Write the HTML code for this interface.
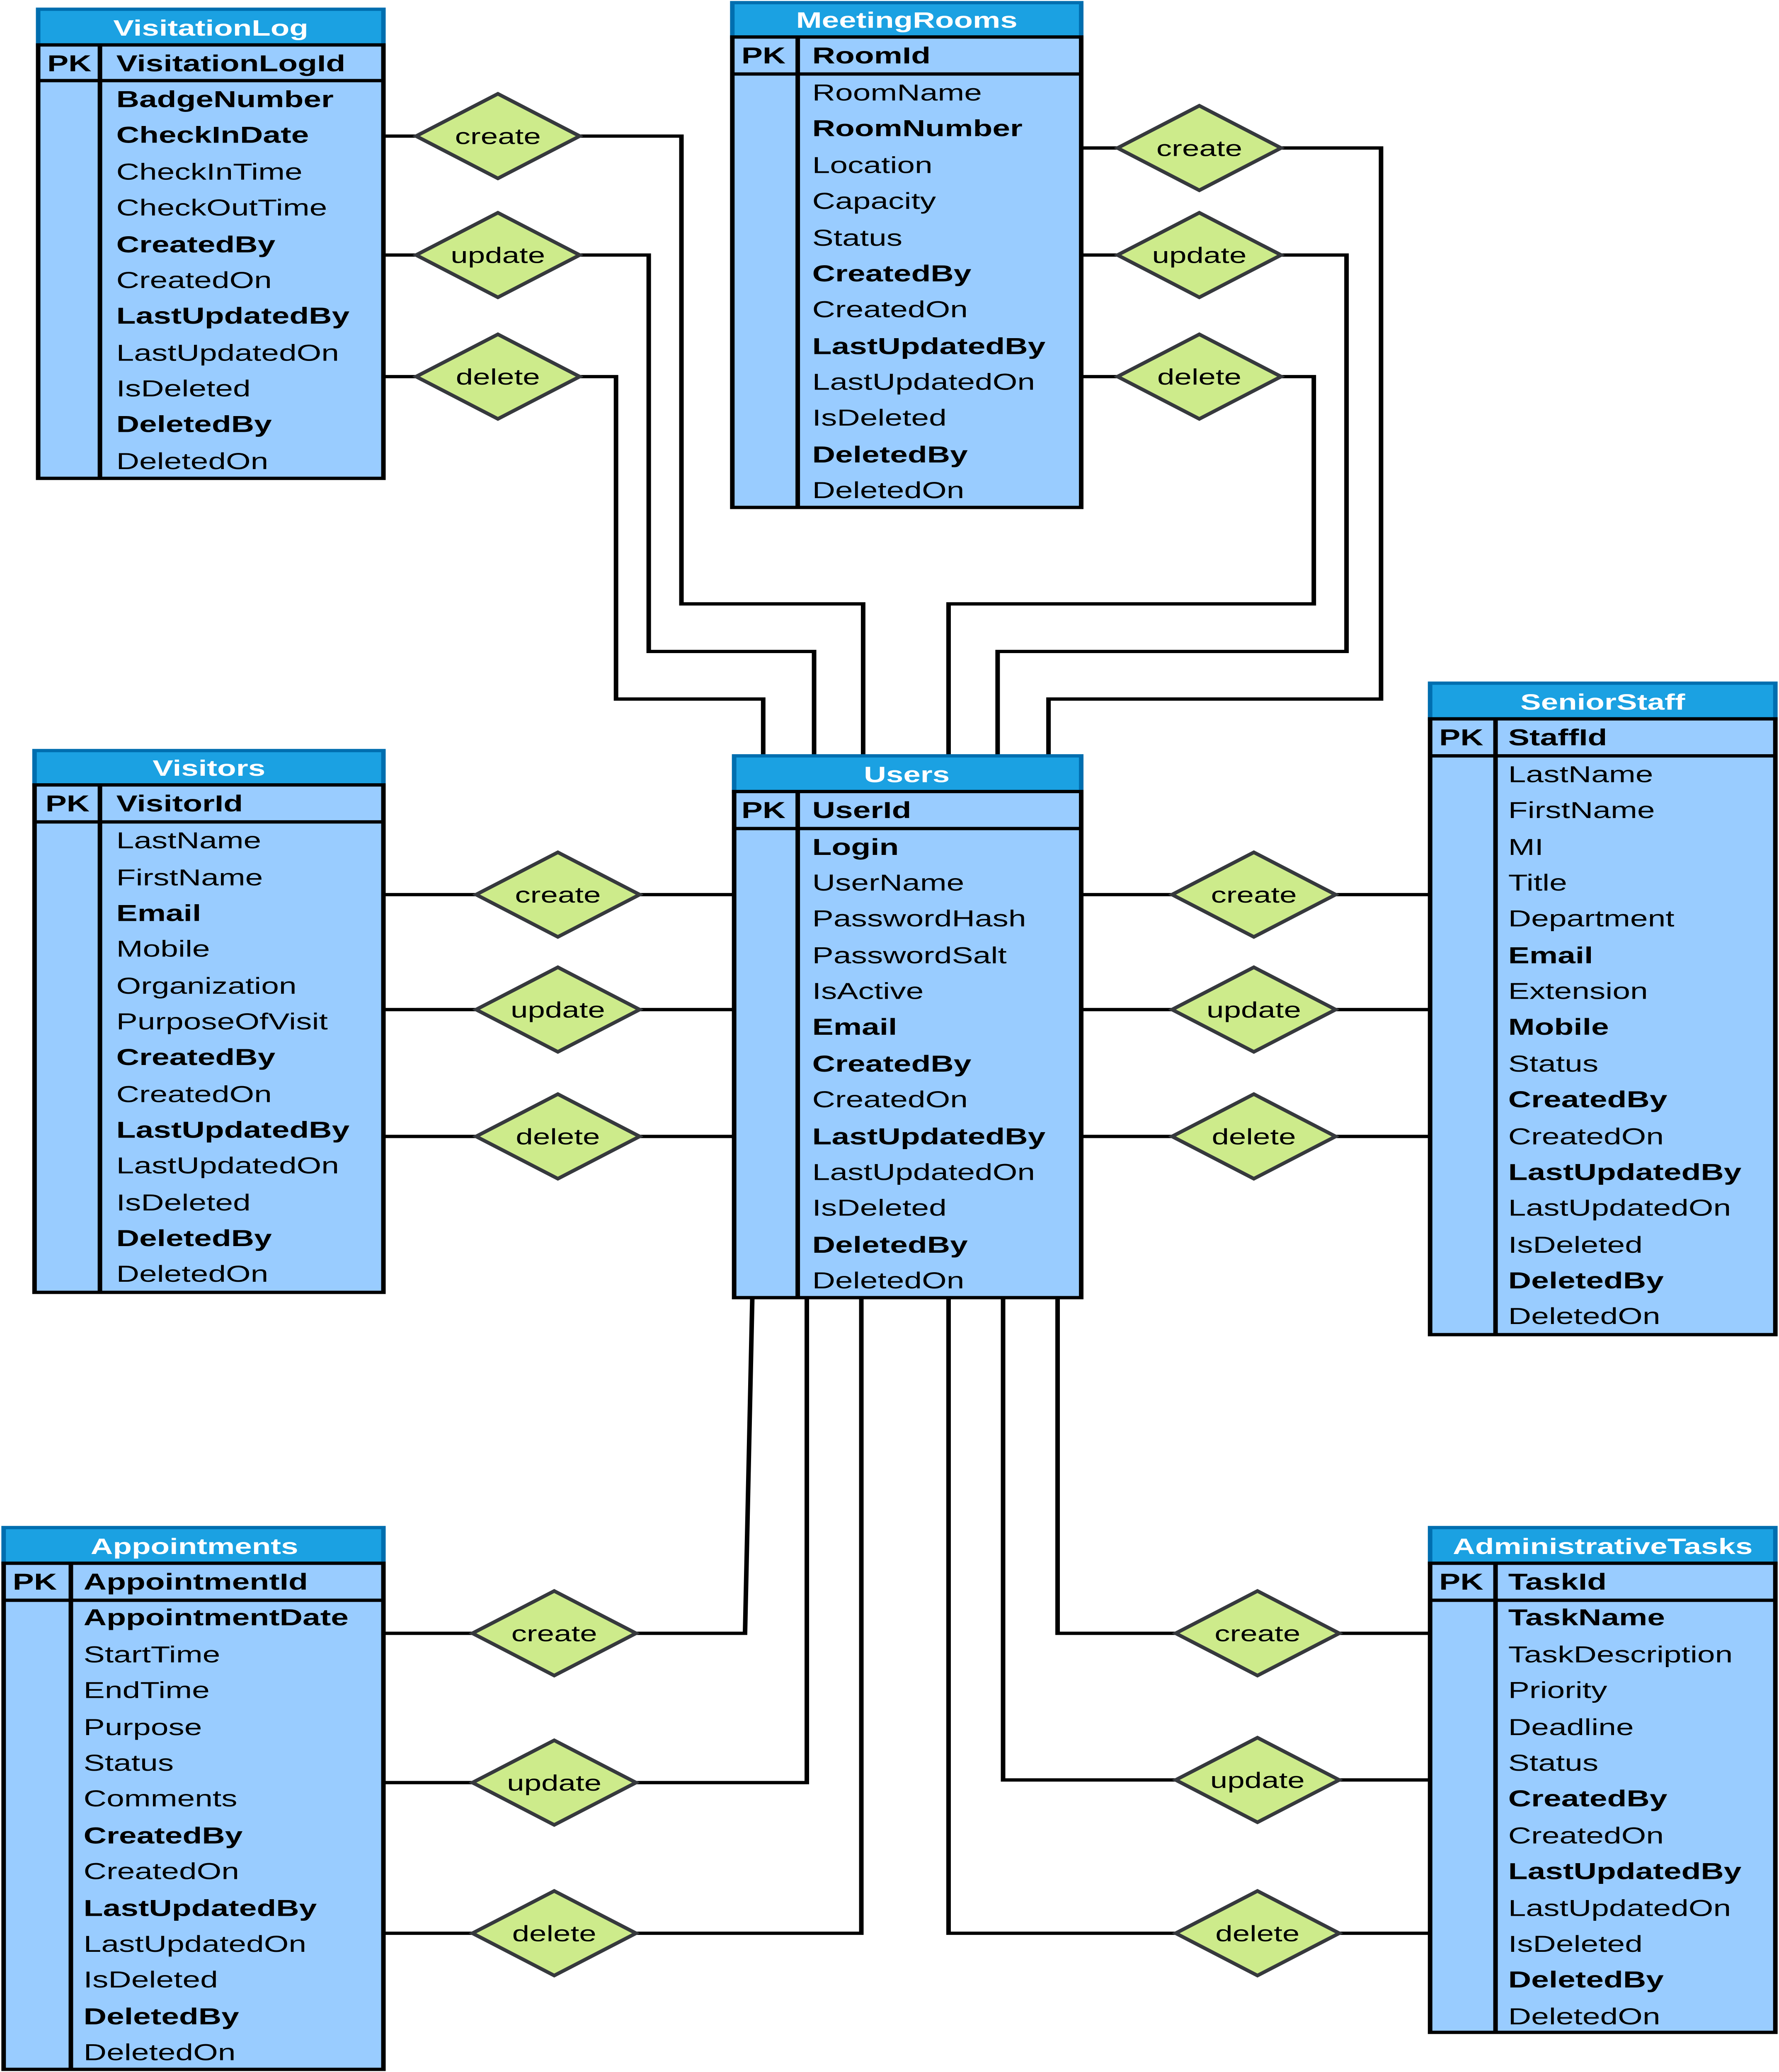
<!DOCTYPE html>
<html><head><meta charset="utf-8"><style>
html,body{margin:0;padding:0;background:#fff;overflow:hidden;width:100vw;height:100vh;}
svg{display:block;width:100vw;height:100vh;position:absolute;left:0;top:0}
text{font-family:"Liberation Sans",Arial,sans-serif;}
.h{fill:#fff;font-weight:bold;font-size:17px;text-anchor:middle}
.r{fill:#000;font-size:17.5px}
.b{font-weight:bold}
.d{fill:#000;font-size:17px;text-anchor:middle}
.hd{fill:#1ba1e2;stroke:#006eaf;stroke-width:2.5}
.bd{fill:#99ccff;stroke:#000;stroke-width:2.5}
.ln{stroke:#000;stroke-width:2.5;fill:none}
.dm{fill:#cdeb8b;stroke:#36393d;stroke-width:2.5}
</style></head><body>
<svg viewBox="0 0 979 1568" preserveAspectRatio="none" xmlns="http://www.w3.org/2000/svg">
<g class="ln">
<path d="M211 103H229M319 103H375V457H475V572"/>
<path d="M211 193H229M319 193H357V493H448V572"/>
<path d="M211 285H229M319 285H339V529H420V572"/>
<path d="M595 112H615M705 112H760V529H577V572"/>
<path d="M595 193H615M705 193H741V493H549V572"/>
<path d="M595 285H615M705 285H723V457H522V572"/>
<path d="M211 677H262M352 677H403"/>
<path d="M211 764H262M352 764H403"/>
<path d="M211 860H262M352 860H403"/>
<path d="M595 677H645M735 677H786"/>
<path d="M595 764H645M735 764H786"/>
<path d="M595 860H645M735 860H786"/>
<path d="M211 1236H260M350 1236H410L414 982"/>
<path d="M211 1349H260M350 1349H444V982"/>
<path d="M211 1463H260M350 1463H474V982"/>
<path d="M786 1236H737M647 1236H582V982"/>
<path d="M786 1347H737M647 1347H552V982"/>
<path d="M786 1463H737M647 1463H522V982"/>
</g>
<g>
<polygon class="dm" points="229,103 274,71 319,103 274,135"/><text class="d" x="274" y="109">create</text>
<polygon class="dm" points="229,193 274,161 319,193 274,225"/><text class="d" x="274" y="199">update</text>
<polygon class="dm" points="229,285 274,253 319,285 274,317"/><text class="d" x="274" y="291">delete</text>
<polygon class="dm" points="615,112 660,80 705,112 660,144"/><text class="d" x="660" y="118">create</text>
<polygon class="dm" points="615,193 660,161 705,193 660,225"/><text class="d" x="660" y="199">update</text>
<polygon class="dm" points="615,285 660,253 705,285 660,317"/><text class="d" x="660" y="291">delete</text>
<polygon class="dm" points="262,677 307,645 352,677 307,709"/><text class="d" x="307" y="683">create</text>
<polygon class="dm" points="262,764 307,732 352,764 307,796"/><text class="d" x="307" y="770">update</text>
<polygon class="dm" points="262,860 307,828 352,860 307,892"/><text class="d" x="307" y="866">delete</text>
<polygon class="dm" points="645,677 690,645 735,677 690,709"/><text class="d" x="690" y="683">create</text>
<polygon class="dm" points="645,764 690,732 735,764 690,796"/><text class="d" x="690" y="770">update</text>
<polygon class="dm" points="645,860 690,828 735,860 690,892"/><text class="d" x="690" y="866">delete</text>
<polygon class="dm" points="260,1236 305,1204 350,1236 305,1268"/><text class="d" x="305" y="1242">create</text>
<polygon class="dm" points="260,1349 305,1317 350,1349 305,1381"/><text class="d" x="305" y="1355">update</text>
<polygon class="dm" points="260,1463 305,1431 350,1463 305,1495"/><text class="d" x="305" y="1469">delete</text>
<polygon class="dm" points="647,1236 692,1204 737,1236 692,1268"/><text class="d" x="692" y="1242">create</text>
<polygon class="dm" points="647,1347 692,1315 737,1347 692,1379"/><text class="d" x="692" y="1353">update</text>
<polygon class="dm" points="647,1463 692,1431 737,1463 692,1495"/><text class="d" x="692" y="1469">delete</text>
</g>

<rect class="hd" x="21" y="7" width="190" height="27"/><text class="h" x="116" y="27">VisitationLog</text>
<rect class="bd" x="21" y="34" width="190" height="328"/>
<path class="ln" d="M21 61H211M55 34V362"/>
<text class="r b" x="26" y="54">PK</text><text class="r b" x="64" y="54">VisitationLogId</text>
<text class="r b" x="64" y="81">BadgeNumber</text>
<text class="r b" x="64" y="108">CheckInDate</text>
<text class="r" x="64" y="136">CheckInTime</text>
<text class="r" x="64" y="163">CheckOutTime</text>
<text class="r b" x="64" y="191">CreatedBy</text>
<text class="r" x="64" y="218">CreatedOn</text>
<text class="r b" x="64" y="245">LastUpdatedBy</text>
<text class="r" x="64" y="273">LastUpdatedOn</text>
<text class="r" x="64" y="300">IsDeleted</text>
<text class="r b" x="64" y="327">DeletedBy</text>
<text class="r" x="64" y="355">DeletedOn</text>

<rect class="hd" x="403" y="2" width="192" height="26"/><text class="h" x="499" y="21">MeetingRooms</text>
<rect class="bd" x="403" y="28" width="192" height="356"/>
<path class="ln" d="M403 56H595M439 28V384"/>
<text class="r b" x="408" y="48">PK</text><text class="r b" x="447" y="48">RoomId</text>
<text class="r" x="447" y="76">RoomName</text>
<text class="r b" x="447" y="103">RoomNumber</text>
<text class="r" x="447" y="131">Location</text>
<text class="r" x="447" y="158">Capacity</text>
<text class="r" x="447" y="186">Status</text>
<text class="r b" x="447" y="213">CreatedBy</text>
<text class="r" x="447" y="240">CreatedOn</text>
<text class="r b" x="447" y="268">LastUpdatedBy</text>
<text class="r" x="447" y="295">LastUpdatedOn</text>
<text class="r" x="447" y="322">IsDeleted</text>
<text class="r b" x="447" y="350">DeletedBy</text>
<text class="r" x="447" y="377">DeletedOn</text>

<rect class="hd" x="19" y="568" width="192" height="26"/><text class="h" x="115" y="587">Visitors</text>
<rect class="bd" x="19" y="594" width="192" height="384"/>
<path class="ln" d="M19 622H211M55 594V978"/>
<text class="r b" x="25" y="614">PK</text><text class="r b" x="64" y="614">VisitorId</text>
<text class="r" x="64" y="642">LastName</text>
<text class="r" x="64" y="670">FirstName</text>
<text class="r b" x="64" y="697">Email</text>
<text class="r" x="64" y="724">Mobile</text>
<text class="r" x="64" y="752">Organization</text>
<text class="r" x="64" y="779">PurposeOfVisit</text>
<text class="r b" x="64" y="806">CreatedBy</text>
<text class="r" x="64" y="834">CreatedOn</text>
<text class="r b" x="64" y="861">LastUpdatedBy</text>
<text class="r" x="64" y="888">LastUpdatedOn</text>
<text class="r" x="64" y="916">IsDeleted</text>
<text class="r b" x="64" y="943">DeletedBy</text>
<text class="r" x="64" y="970">DeletedOn</text>

<rect class="hd" x="404" y="572" width="191" height="27"/><text class="h" x="499" y="592">Users</text>
<rect class="bd" x="404" y="599" width="191" height="383"/>
<path class="ln" d="M404 627H595M439 599V982"/>
<text class="r b" x="408" y="619">PK</text><text class="r b" x="447" y="619">UserId</text>
<text class="r b" x="447" y="647">Login</text>
<text class="r" x="447" y="674">UserName</text>
<text class="r" x="447" y="701">PasswordHash</text>
<text class="r" x="447" y="729">PasswordSalt</text>
<text class="r" x="447" y="756">IsActive</text>
<text class="r b" x="447" y="783">Email</text>
<text class="r b" x="447" y="811">CreatedBy</text>
<text class="r" x="447" y="838">CreatedOn</text>
<text class="r b" x="447" y="866">LastUpdatedBy</text>
<text class="r" x="447" y="893">LastUpdatedOn</text>
<text class="r" x="447" y="920">IsDeleted</text>
<text class="r b" x="447" y="948">DeletedBy</text>
<text class="r" x="447" y="975">DeletedOn</text>

<rect class="hd" x="787" y="517" width="190" height="27"/><text class="h" x="882" y="537">SeniorStaff</text>
<rect class="bd" x="787" y="544" width="190" height="466"/>
<path class="ln" d="M787 572H977M823 544V1010"/>
<text class="r b" x="792" y="564">PK</text><text class="r b" x="830" y="564">StaffId</text>
<text class="r" x="830" y="592">LastName</text>
<text class="r" x="830" y="619">FirstName</text>
<text class="r" x="830" y="647">MI</text>
<text class="r" x="830" y="674">Title</text>
<text class="r" x="830" y="701">Department</text>
<text class="r b" x="830" y="729">Email</text>
<text class="r" x="830" y="756">Extension</text>
<text class="r b" x="830" y="783">Mobile</text>
<text class="r" x="830" y="811">Status</text>
<text class="r b" x="830" y="838">CreatedBy</text>
<text class="r" x="830" y="866">CreatedOn</text>
<text class="r b" x="830" y="893">LastUpdatedBy</text>
<text class="r" x="830" y="920">LastUpdatedOn</text>
<text class="r" x="830" y="948">IsDeleted</text>
<text class="r b" x="830" y="975">DeletedBy</text>
<text class="r" x="830" y="1002">DeletedOn</text>

<rect class="hd" x="2" y="1156" width="209" height="27"/><text class="h" x="107" y="1176">Appointments</text>
<rect class="bd" x="2" y="1183" width="209" height="383"/>
<path class="ln" d="M2 1211H211M39 1183V1566"/>
<text class="r b" x="7" y="1203">PK</text><text class="r b" x="46" y="1203">AppointmentId</text>
<text class="r b" x="46" y="1230">AppointmentDate</text>
<text class="r" x="46" y="1258">StartTime</text>
<text class="r" x="46" y="1285">EndTime</text>
<text class="r" x="46" y="1313">Purpose</text>
<text class="r" x="46" y="1340">Status</text>
<text class="r" x="46" y="1367">Comments</text>
<text class="r b" x="46" y="1395">CreatedBy</text>
<text class="r" x="46" y="1422">CreatedOn</text>
<text class="r b" x="46" y="1450">LastUpdatedBy</text>
<text class="r" x="46" y="1477">LastUpdatedOn</text>
<text class="r" x="46" y="1504">IsDeleted</text>
<text class="r b" x="46" y="1532">DeletedBy</text>
<text class="r" x="46" y="1559">DeletedOn</text>

<rect class="hd" x="787" y="1156" width="190" height="27"/><text class="h" x="882" y="1176">AdministrativeTasks</text>
<rect class="bd" x="787" y="1183" width="190" height="355"/>
<path class="ln" d="M787 1211H977M823 1183V1538"/>
<text class="r b" x="792" y="1203">PK</text><text class="r b" x="830" y="1203">TaskId</text>
<text class="r b" x="830" y="1230">TaskName</text>
<text class="r" x="830" y="1258">TaskDescription</text>
<text class="r" x="830" y="1285">Priority</text>
<text class="r" x="830" y="1313">Deadline</text>
<text class="r" x="830" y="1340">Status</text>
<text class="r b" x="830" y="1367">CreatedBy</text>
<text class="r" x="830" y="1395">CreatedOn</text>
<text class="r b" x="830" y="1422">LastUpdatedBy</text>
<text class="r" x="830" y="1450">LastUpdatedOn</text>
<text class="r" x="830" y="1477">IsDeleted</text>
<text class="r b" x="830" y="1504">DeletedBy</text>
<text class="r" x="830" y="1532">DeletedOn</text>
</svg>
</body></html>
